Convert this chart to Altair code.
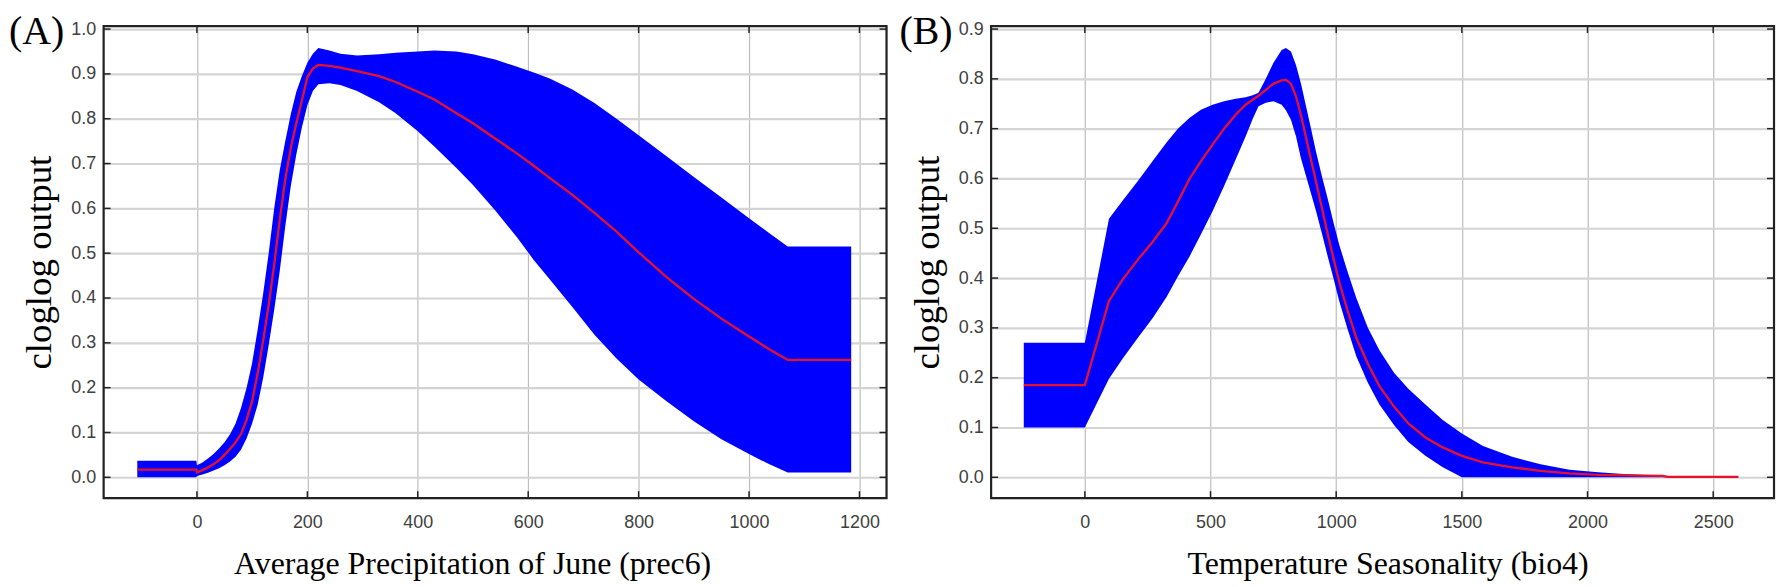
import altair as alt
import pandas as pd

# ---------------- Panel A: Average Precipitation of June (prec6) ----------------
A_x = [-108, -1, 0, 10, 20, 30, 40, 50, 60, 70,
       80, 90, 100, 110, 120, 130, 140, 150, 160, 170,
       180, 190, 200, 210, 220, 240, 260, 290, 330, 360,
       400, 430, 470, 500, 540, 580, 610, 640, 680, 720,
       760, 800, 850, 900, 950, 1000, 1035, 1070, 1185]
A_mean = [0.017, 0.017, 0.011, 0.016, 0.022, 0.029, 0.038, 0.05, 0.063, 0.078,
          0.097, 0.128, 0.17, 0.232, 0.305, 0.385, 0.475, 0.575, 0.665, 0.735,
          0.79, 0.84, 0.893, 0.912, 0.92, 0.918, 0.914, 0.906, 0.895, 0.882,
          0.86, 0.843, 0.812, 0.79, 0.756, 0.722, 0.695, 0.667, 0.63, 0.59,
          0.548, 0.502, 0.447, 0.398, 0.354, 0.314, 0.287, 0.262, 0.262]
A_upper = [0.037, 0.037, 0.027, 0.033, 0.042, 0.052, 0.064, 0.078, 0.096, 0.12,
           0.155, 0.2, 0.255, 0.33, 0.41, 0.5, 0.6, 0.685, 0.75, 0.81,
           0.86, 0.895, 0.925, 0.945, 0.958, 0.952, 0.945, 0.941, 0.944, 0.947,
           0.95, 0.952, 0.95, 0.944, 0.932, 0.916, 0.903, 0.889, 0.865, 0.835,
           0.8, 0.763, 0.717, 0.67, 0.624, 0.578, 0.546, 0.515, 0.515]
A_lower = [0.0, 0.0, 0.003, 0.006, 0.01, 0.015, 0.02, 0.027, 0.035, 0.046,
           0.062, 0.087, 0.12, 0.162, 0.222, 0.295, 0.374, 0.46, 0.56, 0.65,
           0.72, 0.78, 0.83, 0.862, 0.877, 0.879, 0.875, 0.862, 0.837, 0.812,
           0.772, 0.738, 0.69, 0.652, 0.596, 0.535, 0.485, 0.44, 0.38, 0.318,
           0.265, 0.218, 0.17, 0.125, 0.085, 0.052, 0.03, 0.011, 0.011]
A_xticks = [0, 200, 400, 600, 800, 1000, 1200]
A_yticks = [0.0, 0.1, 0.2, 0.3, 0.4, 0.5, 0.6, 0.7, 0.8, 0.9, 1.0]

# ---------------- Panel B: Temperature Seasonality (bio4) ----------------
B_x = [-243, 0, 96, 150, 211, 270, 325, 370, 417, 462,
       508, 554, 600, 640, 668, 691, 720, 750, 783, 800,
       820, 840, 860, 880, 900, 920, 943, 966, 990, 1012,
       1045, 1080, 1126, 1172, 1230, 1287, 1355, 1424, 1500, 1584,
       1700, 1813, 1928, 2042, 2157, 2300, 2320, 2450, 2600]
B_mean = [0.185, 0.185, 0.354, 0.397, 0.437, 0.473, 0.51, 0.553, 0.6, 0.635,
          0.668, 0.7, 0.728, 0.748, 0.758, 0.766, 0.778, 0.79, 0.797, 0.798,
          0.79, 0.765, 0.727, 0.682, 0.637, 0.593, 0.541, 0.489, 0.438, 0.392,
          0.335, 0.28, 0.228, 0.183, 0.142, 0.108, 0.08, 0.06, 0.043, 0.03,
          0.02, 0.013, 0.008, 0.005, 0.004, 0.003, 0.001, 0.001, 0.001]
B_upper = [0.27, 0.27, 0.519, 0.555, 0.595, 0.635, 0.672, 0.7, 0.722, 0.738,
           0.748, 0.755, 0.76, 0.763, 0.767, 0.772, 0.8, 0.832, 0.858, 0.862,
           0.855, 0.828, 0.79, 0.745, 0.7, 0.653, 0.605, 0.56, 0.51, 0.467,
           0.413, 0.36, 0.3, 0.255, 0.21, 0.178, 0.146, 0.115, 0.088, 0.063,
           0.041, 0.026, 0.015, 0.01, 0.006, 0.003, 0.002, 0.002, 0.002]
B_lower = [0.1, 0.1, 0.198, 0.238, 0.28, 0.32, 0.362, 0.403, 0.444, 0.488,
           0.534, 0.585, 0.638, 0.685, 0.72, 0.745, 0.752, 0.755, 0.748, 0.737,
           0.718, 0.685, 0.64, 0.605, 0.57, 0.534, 0.49, 0.444, 0.398, 0.354,
           0.298, 0.243, 0.19, 0.146, 0.105, 0.071, 0.043, 0.02, 0.0, 0.0,
           0.0, 0.0, 0.0, 0.0, 0.0, 0.0, 0.0, 0.0, 0.0]
B_xticks = [0, 500, 1000, 1500, 2000, 2500]
B_yticks = [0.0, 0.1, 0.2, 0.3, 0.4, 0.5, 0.6, 0.7, 0.8, 0.9]

BLUE = "#0000ff"
RED = "#e8112d"
FRAME = "#222222"
LABEL = "#404040"
SANS = "Liberation Sans"
SERIF = "Liberation Serif"
W, H = 786, 474


def panel(xs, lo, mid, hi, xdom, ydom, xticks, yticks, xtitle, tag, tag_x, title_x):
    df = pd.DataFrame({"x": xs, "lower": lo, "mean": mid, "upper": hi})
    xsc = alt.Scale(domain=xdom, nice=False, zero=False)
    ysc = alt.Scale(domain=ydom, nice=False, zero=False)
    xaxis = alt.Axis(title=xtitle, values=xticks, format="d", grid=True,
                     gridColor="#bdbdbd", gridWidth=1.2, ticks=False, tickSize=0,
                     domain=False, labelFont=SANS, labelFontSize=18,
                     labelColor=LABEL, labelPadding=15, labelFlush=False,
                     titleFont=SERIF, titleFontSize=32, titleFontWeight="normal",
                     titleColor="black", titleX=title_x, titleY=76,
                     titleBaseline="alphabetic", titleAlign="center")
    yaxis = alt.Axis(title="cloglog output", values=yticks, format=".1f", grid=True,
                     gridColor="#d4d4d4", gridWidth=2.2, ticks=False, tickSize=0,
                     domain=False, labelFont=SANS, labelFontSize=18,
                     labelColor=LABEL, labelPadding=8, labelFlush=False,
                     titleFont=SERIF, titleFontSize=37, titleFontWeight="normal",
                     titleColor="black", titleX=-53, titleY=H / 2,
                     titleAngle=270, titleBaseline="alphabetic", titleAlign="center")
    X = alt.X("x:Q", scale=xsc, axis=xaxis)
    area = alt.Chart(df).mark_area(color=BLUE, opacity=1).encode(
        x=X, y=alt.Y("upper:Q", scale=ysc, axis=yaxis), y2="lower:Q")
    line = alt.Chart(df).mark_line(color=RED, strokeWidth=2.3).encode(
        x=X, y=alt.Y("mean:Q", scale=ysc, axis=yaxis))
    xt = pd.DataFrame({"x": xticks})
    yt = pd.DataFrame({"y": yticks})
    Y = alt.Y("y:Q", scale=ysc, axis=yaxis)
    tb = alt.Chart(xt).mark_rule(color=FRAME, strokeWidth=1.5).encode(
        x=X, y=alt.value(H), y2=alt.value(H - 7))
    tt = alt.Chart(xt).mark_rule(color=FRAME, strokeWidth=1.5).encode(
        x=X, y=alt.value(0), y2=alt.value(7))
    tl = alt.Chart(yt).mark_rule(color=FRAME, strokeWidth=1.5).encode(
        y=Y, x=alt.value(0), x2=alt.value(7))
    tr = alt.Chart(yt).mark_rule(color=FRAME, strokeWidth=1.5).encode(
        y=Y, x=alt.value(W), x2=alt.value(W - 7))
    tagdf = pd.DataFrame({"t": [tag]})
    frame = alt.Chart(tagdf).mark_rect(
        filled=False, stroke=FRAME, strokeWidth=2.2, fillOpacity=0
    ).encode(x=alt.value(0), x2=alt.value(W), y=alt.value(0), y2=alt.value(H))
    label = alt.Chart(tagdf).mark_text(
        align="left", baseline="top", font=SERIF, fontSize=40, color="black"
    ).encode(text="t:N", x=alt.value(tag_x), y=alt.value(-14))
    return alt.layer(area, line, tb, tt, tl, tr, frame, label).properties(width=W, height=H)


pA = panel(A_x, A_lower, A_mean, A_upper, [-169, 1249], [-0.0466, 1.0067],
           A_xticks, A_yticks, "Average Precipitation of June (prec6)", "(A)", -95, 370)
pB = panel(B_x, B_lower, B_mean, B_upper, [-373, 2742], [-0.042, 0.906],
           B_xticks, B_yticks, "Temperature Seasonality (bio4)", "(B)", -92, 398)

chart = alt.hconcat(pA, pB, spacing=10).properties(
    padding={"left": 0, "top": 2, "right": 0, "bottom": 0}
).configure_view(stroke=FRAME, strokeWidth=2, strokeOpacity=1).configure(background="white")

chart.save("out.html", embed_options={"renderer": "svg", "actions": False})
